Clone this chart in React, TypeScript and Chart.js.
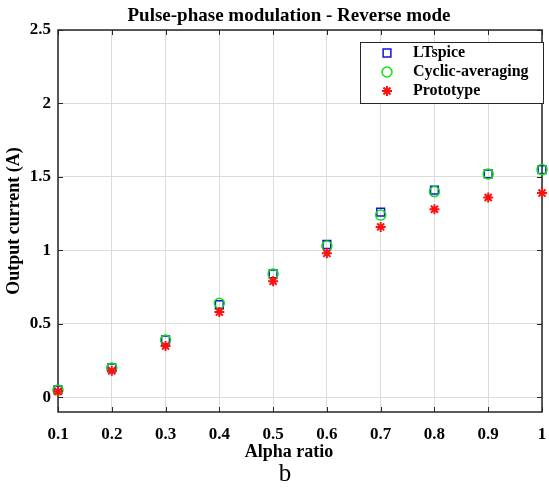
import React, { useEffect, useRef } from "react";
import { Chart, registerables } from "chart.js";
import { drawPoint } from "chart.js/helpers";

Chart.register(...registerables);

const alphaRatio = [0.1, 0.2, 0.3, 0.4, 0.5, 0.6, 0.7, 0.8, 0.9, 1.0];
const ltspice = [0.05, 0.2, 0.39, 0.63, 0.84, 1.04, 1.26, 1.41, 1.52, 1.55];
const cyclicAveraging = [0.05, 0.2, 0.39, 0.64, 0.84, 1.03, 1.24, 1.4, 1.52, 1.55];
const prototype = [0.04, 0.18, 0.35, 0.58, 0.79, 0.98, 1.16, 1.28, 1.36, 1.39];
const xTickValues = [0.1, 0.2, 0.3, 0.4, 0.5, 0.6, 0.7, 0.8, 0.9, 1.0];
const yTickValues = [0, 0.5, 1, 1.5, 2, 2.5];

const chartTitle = "Pulse-phase modulation - Reverse mode";
const xTitle = "Alpha ratio";
const yTitle = "Output current (A)";
const seriesNames = ["LTspice", "Cyclic-averaging", "Prototype"];

const FONT = "'Liberation Serif', 'Times New Roman', serif";
const TEXT_CX = 289;

const framePlugin = {
  id: "frame",
  beforeDatasetsDraw(chart: any) {
    const { ctx, chartArea: a, scales } = chart;
    ctx.save();
    ctx.strokeStyle = "#262626";
    ctx.lineWidth = 1;
    const L = 5;
    ctx.beginPath();
    for (const v of xTickValues) {
      const x = Math.round(scales.x.getPixelForValue(v)) + 0.5;
      ctx.moveTo(x, a.bottom);
      ctx.lineTo(x, a.bottom - L);
      ctx.moveTo(x, a.top);
      ctx.lineTo(x, a.top + L);
    }
    for (const v of yTickValues) {
      const y = Math.round(scales.y.getPixelForValue(v)) + 0.5;
      ctx.moveTo(a.left, y);
      ctx.lineTo(a.left + L, y);
      ctx.moveTo(a.right, y);
      ctx.lineTo(a.right - L, y);
    }
    ctx.stroke();
    ctx.lineWidth = 1.5;
    ctx.strokeRect(a.left, a.top, a.right - a.left, a.bottom - a.top);
    ctx.restore();
  },
  afterDraw(chart: any) {
    const { ctx, chartArea: a } = chart;
    ctx.save();
    ctx.fillStyle = "#000";
    ctx.textAlign = "center";
    ctx.textBaseline = "middle";
    // title
    ctx.font = `bold 19px ${FONT}`;
    ctx.fillText(chartTitle, TEXT_CX, 16);
    // x title
    ctx.font = `bold 18px ${FONT}`;
    ctx.fillText(xTitle, TEXT_CX, 452);
    // y title
    ctx.save();
    ctx.translate(14, (a.top + a.bottom) / 2);
    ctx.rotate(-Math.PI / 2);
    ctx.fillText(yTitle, 0, 0);
    ctx.restore();

    // legend
    const lx = 360, ly = 42, lw = 183, lh = 61;
    ctx.fillStyle = "#fff";
    ctx.fillRect(lx, ly, lw, lh);
    ctx.strokeStyle = "#262626";
    ctx.lineWidth = 1;
    ctx.strokeRect(lx + 0.5, ly + 0.5, lw, lh);
    const rows = [53, 72, 91];
    chart.data.datasets.forEach((ds: any, i: number) => {
      ctx.strokeStyle = ds.borderColor;
      ctx.fillStyle = "transparent";
      ctx.lineWidth = ds.borderWidth;
      drawPoint(ctx, { pointStyle: ds.pointStyle, radius: ds.pointRadius, borderWidth: ds.borderWidth, rotation: 0 } as any, 387, rows[i]);
      ctx.fillStyle = "#000";
      ctx.font = `bold 16px ${FONT}`;
      ctx.textAlign = "left";
      ctx.textBaseline = "middle";
      ctx.fillText(seriesNames[i], 413, rows[i]);
    });
    ctx.restore();
  },
};

export default function App() {
  const ref = useRef<HTMLCanvasElement | null>(null);
  useEffect(() => {
    if (!ref.current) return;
    const toPts = (ys: number[]) => alphaRatio.map((x, i) => ({ x, y: ys[i] }));
    const chart = new Chart(ref.current, {
      type: "scatter",
      data: {
        datasets: [
          {
            label: seriesNames[0],
            data: toPts(ltspice),
            pointStyle: "rect",
            pointRadius: 5.5,
            borderColor: "#1010e0",
            backgroundColor: "transparent",
            borderWidth: 1.5,
            order: 3,
            clip: false,
          },
          {
            label: seriesNames[1],
            data: toPts(cyclicAveraging),
            pointStyle: "circle",
            pointRadius: 5,
            borderColor: "#10e010",
            backgroundColor: "transparent",
            borderWidth: 1.5,
            order: 2,
            clip: false,
          },
          {
            label: seriesNames[2],
            data: toPts(prototype),
            pointStyle: "star",
            pointRadius: 5,
            borderColor: "#ff1010",
            backgroundColor: "#ff1010",
            borderWidth: 2,
            order: 1,
            clip: false,
          },
        ] as any,
      },
      plugins: [framePlugin],
      options: {
        animation: false,
        responsive: false,
        layout: { padding: { top: 30, right: 3, bottom: 0, left: 0 } },
        plugins: { legend: { display: false }, tooltip: { enabled: false }, title: { display: false } },
        scales: {
          x: {
            type: "linear",
            min: 0.1,
            max: 1,
            afterBuildTicks: (s: any) => {
              s.ticks = xTickValues.map((v) => ({ value: v }));
            },
            afterFit: (s: any) => {
              s.height = 80;
              s.paddingLeft = 0;
              s.paddingRight = 0;
            },
            grid: { color: "#dcdcdc", lineWidth: 1, drawTicks: false },
            border: { display: false },
            ticks: {
              padding: 12,
              color: "#000",
              font: { family: FONT, size: 17, weight: "bold" },
              callback: (v: any) => String(Number(Number(v).toFixed(1))),
              maxRotation: 0,
              autoSkip: false,
            },
          },
          y: {
            type: "linear",
            min: -0.1,
            max: 2.5,
            afterBuildTicks: (s: any) => {
              s.ticks = yTickValues.map((v) => ({ value: v }));
            },
            afterFit: (s: any) => {
              s.width = 58;
              s.paddingTop = 0;
              s.paddingBottom = 0;
            },
            grid: { color: "#dcdcdc", lineWidth: 1, drawTicks: false },
            border: { display: false },
            ticks: {
              padding: 7,
              color: "#000",
              font: { family: FONT, size: 17, weight: "bold" },
              callback: (v: any) => String(Number(Number(v).toFixed(1))),
              autoSkip: false,
            },
          },
        },
      } as any,
    });
    return () => chart.destroy();
  }, []);

  return (
    <div style={{ position: "absolute", left: 0, top: 0, width: 549, height: 492, background: "#fff" }}>
      <canvas ref={ref} width={549} height={492} style={{ display: "block" }} />
      <div
        style={{
          position: "absolute",
          left: 285,
          top: 458,
          transform: "translateX(-50%)",
          fontFamily: FONT,
          fontSize: 25,
          lineHeight: "30px",
          color: "#000",
        }}
      >
        b
      </div>
    </div>
  );
}
